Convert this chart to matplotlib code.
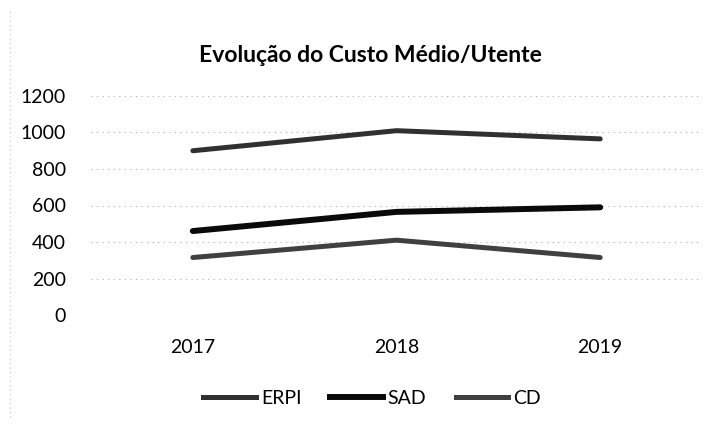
import matplotlib.pyplot as plt
from matplotlib.lines import Line2D

# chart data
years = ['2017', '2018', '2019']
erpi = [900, 1010, 965]
sad = [460, 565, 590]
cd = [315, 410, 315]
y_ticks = [0, 200, 400, 600, 800, 1000, 1200]

plt.rcParams['font.family'] = ['Lato', 'DejaVu Sans']

fig = plt.figure(figsize=(7.17, 4.30), dpi=100)
ax = fig.add_axes([91 / 717, 1 - 315 / 430, (702 - 91) / 717, (315 - 96) / 430])

x = range(len(years))
ax.plot(x, erpi, color='#303030', lw=3.6, solid_capstyle='round', label='ERPI')
ax.plot(x, sad, color='#0a0a0a', lw=4.3, solid_capstyle='round', label='SAD')
ax.plot(x, cd, color='#404040', lw=3.6, solid_capstyle='round', label='CD')

ax.set_xlim(-0.5, 2.5)
ax.set_ylim(0, 1200)
ax.set_yticks(y_ticks)
ax.set_yticklabels([str(v) for v in y_ticks], fontsize=14)
ax.set_xticks(list(x))
ax.set_xticklabels(years, fontsize=14)
ax.tick_params(length=0, pad=18)
ax.tick_params(axis='x', pad=17)
ax.grid(axis='y', color='#b0b0b0', lw=0.8, linestyle=(0, (1, 4)))
for s in ax.spines.values():
    s.set_visible(False)

fig.text(370 / 717, 1 - 55 / 430, 'Evolução do Custo Médio/Utente',
         ha='center', va='center', fontsize=16.5, fontweight='bold')

handles = [Line2D([], [], color='#303030', lw=3.6),
           Line2D([], [], color='#0a0a0a', lw=4.3),
           Line2D([], [], color='#404040', lw=3.6)]
fig.legend(handles, ['ERPI', 'SAD', 'CD'], loc='center', ncol=3,
           bbox_to_anchor=(372 / 717, 1 - 398 / 430), frameon=False,
           fontsize=14, handlelength=2.7, handletextpad=0.25, columnspacing=1.5)

# faint dotted chart border on the left
fig.add_artist(Line2D([10 / 717, 10 / 717], [0.03, 0.98], transform=fig.transFigure,
                      color='#c0c0c0', lw=0.8, linestyle=(0, (1, 3))))

fig.savefig('out.png', dpi=100)
